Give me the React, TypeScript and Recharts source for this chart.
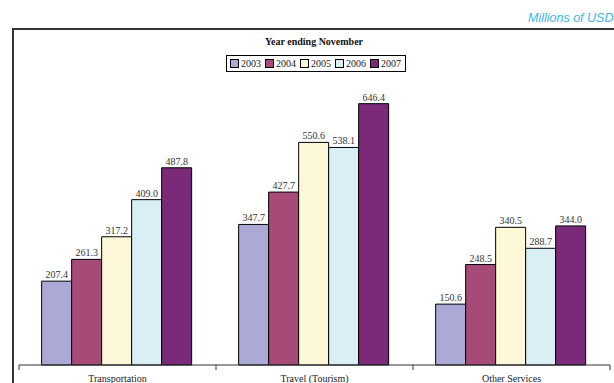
import * as React from 'react';
import { BarChart, Bar, XAxis, YAxis, LabelList } from 'recharts';

const categories = ['Transportation', 'Travel (Tourism)', 'Other Services'];
const years = ['2003', '2004', '2005', '2006', '2007'];
const v2003 = [207.4, 347.7, 150.6];
const v2004 = [261.3, 427.7, 248.5];
const v2005 = [317.2, 550.6, 340.5];
const v2006 = [409.0, 538.1, 288.7];
const v2007 = [487.8, 646.4, 344.0];
const colors = ['#abaad6', '#a64a78', '#fdf8d8', '#daeef5', '#7a2a78'];

const seriesValues = [v2003, v2004, v2005, v2006, v2007];
const data = categories.map((name, i) => {
  const row: Record<string, string | number> = { name };
  years.forEach((y, s) => {
    row[y] = seriesValues[s][i];
  });
  return row;
});

const serif = '"Liberation Serif", "DejaVu Serif", serif';
const W = 614;
const H = 400;
const margin = { top: 82, right: 4, bottom: 5, left: 19 };
const bandWidth = (W - margin.left - margin.right) / categories.length;

function CategoryTick(props: any) {
  const { x, y, payload, index } = props;
  const axisY = y - 8;
  return (
    <g>
      <line x1={x - bandWidth / 2} x2={x - bandWidth / 2} y1={axisY} y2={axisY + 5} stroke="#333" />
      {index === categories.length - 1 && (
        <line x1={x + bandWidth / 2} x2={x + bandWidth / 2} y1={axisY} y2={axisY + 5} stroke="#333" />
      )}
      <text x={x} y={axisY + 17} textAnchor="middle" fontSize={10} fontFamily={serif} fill="#222">
        {payload.value}
      </text>
    </g>
  );
}

function LegendBox() {
  return (
    <div
      style={{
        position: 'absolute',
        left: 226,
        top: 55,
        display: 'inline-flex',
        alignItems: 'center',
        border: '1px solid #000',
        padding: '1px 0 1px 3px',
        fontFamily: serif,
        fontSize: 10,
        color: '#222',
        lineHeight: '13px',
      }}
    >
      {years.map((y, s) => (
        <span key={y} style={{ display: 'inline-flex', alignItems: 'center', marginRight: 4 }}>
          <span
            style={{
              display: 'inline-block',
              width: 7,
              height: 7,
              background: colors[s],
              border: '1px solid #000',
              marginRight: 2,
            }}
          />
          {y}
        </span>
      ))}
    </div>
  );
}

export default function App() {
  return (
    <div
      style={{
        position: 'absolute',
        left: 0,
        top: 0,
        width: 614,
        height: 383,
        overflow: 'hidden',
        background: '#fff',
      }}
    >
      <div
        style={{
          position: 'absolute',
          left: 528,
          top: 11,
          fontFamily: '"Liberation Sans", Arial, sans-serif',
          fontStyle: 'italic',
          fontSize: 12.5,
          color: '#3db3ea',
          whiteSpace: 'nowrap',
        }}
      >
        Millions of USD
      </div>
      <div
        style={{
          position: 'absolute',
          left: 12,
          top: 28,
          width: 700,
          height: 500,
          borderTop: '2px solid #333',
          borderLeft: '2px solid #333',
        }}
      />
      <div
        style={{
          position: 'absolute',
          left: 214,
          width: 200,
          top: 36,
          textAlign: 'center',
          fontFamily: serif,
          fontWeight: 'bold',
          fontSize: 10,
          color: '#111',
        }}
      >
        Year ending November
      </div>
      <LegendBox />
      <div style={{ position: 'absolute', left: 0, top: 0 }}>
        <BarChart
          width={W}
          height={H}
          data={data}
          margin={margin}
          barCategoryGap="11.5%"
          barGap={0}
        >
          <XAxis
            dataKey="name"
            tickLine={false}
            axisLine={{ stroke: '#333' }}
            tick={<CategoryTick />}
            interval={0}
          />
          <YAxis hide domain={[0, 700]} />
          {years.map((y, s) => (
            <Bar key={y} dataKey={y} fill={colors[s]} stroke="#000" strokeWidth={1} isAnimationActive={false}>
              <LabelList
                dataKey={y}
                position="top"
                offset={3}
                fontSize={10}
                fontFamily={serif}
                fill="#333"
                formatter={(v: any) => Number(v).toFixed(1)}
              />
            </Bar>
          ))}
        </BarChart>
      </div>
    </div>
  );
}
